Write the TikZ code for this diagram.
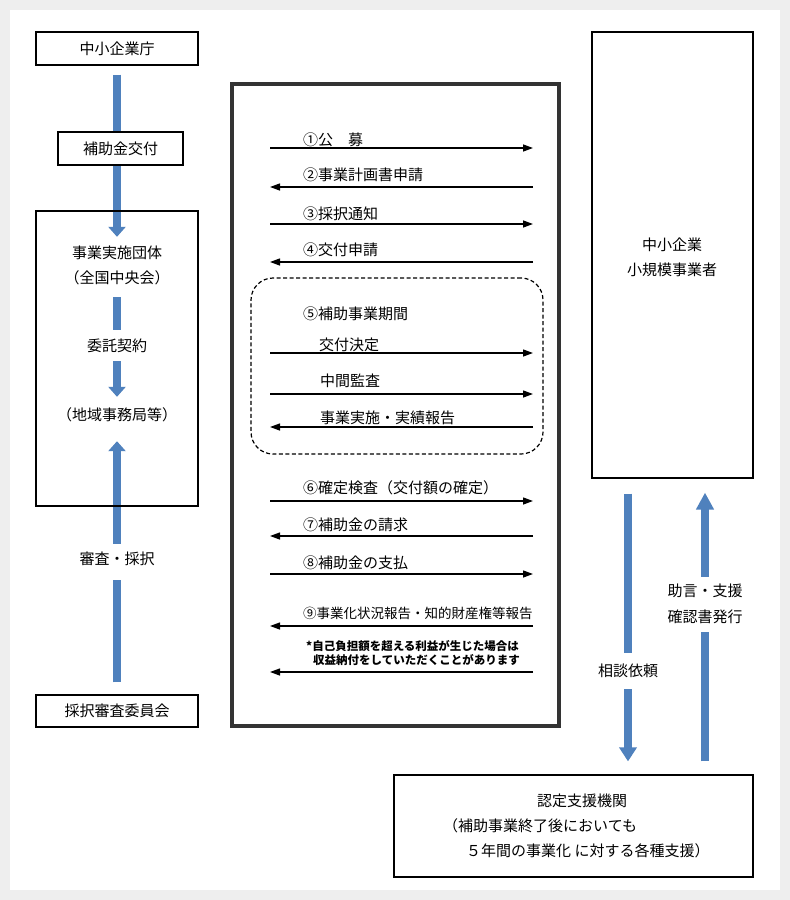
\documentclass[tikz,border=0pt]{standalone}
\usepackage{fontspec}
\setmainfont{Noto Sans CJK JP}
\usetikzlibrary{arrows.meta,backgrounds}
\definecolor{flowblue}{RGB}{79,129,189}
\definecolor{pagegray}{RGB}{238,238,238}
\tikzset{
  box/.style={draw, line width=1.2pt, minimum width=162pt, minimum height=33pt, inner sep=0pt},
  lbl/.style={inner sep=0pt, text height=12.5pt, text depth=1.5pt},
  msg/.style={line width=1.3pt, -{Triangle[length=10pt,width=7pt]}},
  bigarrow/.style={flowblue, line width=8pt},
  bighead/.style={-{Triangle[length=#1,width=17pt]}},
}
\begin{document}
\begin{tikzpicture}[x=1pt,y=-1pt,font=\fontsize{15pt}{18pt}\selectfont]
    %% Page
    \begin{scope}[on background layer]
        \fill[pagegray] (0,0) rectangle (790,900);
        \fill[white] (10,10) rectangle (780,890);
    \end{scope}
    %% Left column
    \node[box] (cho) at (117,48.5) {中小企業庁};
    \node[box, fill=white, minimum width=125pt] (hojo) at (120.5,148.5) {補助金交付};
    \node[box, minimum height=295pt] (jimukyoku) at (117,358.5) {};
    \node[lbl] (dantai) at (117,253) {事業実施団体};
    \node[lbl] (zenkoku) at (117,278) {（全国中央会）};
    \node[lbl] (itaku) at (117,346) {委託契約};
    \node[lbl] (chiiki) at (117,415) {（地域事務局等）};
    \node[lbl] (shinsa) at (117,559) {審査・採択};
    \node[box, minimum height=32pt] (iinkai) at (117,711) {採択審査委員会};
    %% Centre: procedure
    \node[draw=black!80, line width=4pt, minimum width=327pt, minimum height=642pt] (tetsuzuki) at (395.5,405) {};
    \node[draw, dashed, dash pattern=on 4pt off 2.5pt, rounded corners=22pt, line width=1.2pt,
          minimum width=292pt, minimum height=176pt] (kikan) at (397,366) {};
    \foreach \n/\y in {1/148,2/187,3/224,4/262,5/353,6/394,7/427,8/501,9/536,10/574,11/626,12/672} {
        \coordinate (ml\n) at (270,\y);
        \coordinate (mr\n) at (533,\y);
    }
    \node[lbl, anchor=west] (koubo) at (303,140) {①公　募};
    \node[lbl, anchor=west] (keikaku) at (303,175) {②事業計画書申請};
    \node[lbl, anchor=west] (saitaku) at (303,213.5) {③採択通知};
    \node[lbl, anchor=west] (koufu) at (303,250) {④交付申請};
    \node[lbl, anchor=west] (kikanlbl) at (303,313.5) {⑤補助事業期間};
    \node[lbl, anchor=west] (kettei) at (319,345) {交付決定};
    \node[lbl, anchor=west] (kansa) at (320,381) {中間監査};
    \node[lbl, anchor=west] (jisseki) at (320,418) {事業実施・実績報告};
    \node[lbl, anchor=west] (kakutei) at (303,488) {⑥確定検査（交付額の確定）};
    \node[lbl, anchor=west] (seikyu) at (303,525) {⑦補助金の請求};
    \node[lbl, anchor=west] (shiharai) at (303,563) {⑧補助金の支払};
    \node[lbl, anchor=west, font=\fontsize{13.5pt}{16pt}\selectfont] (houkoku) at (303,613) {⑨事業化状況報告・知的財産権等報告};
    \node[lbl, anchor=west, font=\bfseries\fontsize{11.5pt}{13pt}\selectfont] (note1) at (306,645) {*自己負担額を超える利益が生じた場合は};
    \node[lbl, anchor=west, font=\bfseries\fontsize{11.5pt}{13pt}\selectfont] (note2) at (313,659) {収益納付をしていただくことがあります};
    \draw[msg] (ml1) -- (mr1);
    \draw[msg] (mr2) -- (ml2);
    \draw[msg] (ml3) -- (mr3);
    \draw[msg] (mr4) -- (ml4);
    \draw[msg] (ml5) -- (mr5);
    \draw[msg] (ml6) -- (mr6);
    \draw[msg] (mr7) -- (ml7);
    \draw[msg] (ml8) -- (mr8);
    \draw[msg] (mr9) -- (ml9);
    \draw[msg] (ml10) -- (mr10);
    \draw[msg] (mr11) -- (ml11);
    \draw[msg] (mr12) -- (ml12);
    %% Right column
    \node[box, minimum width=161pt, minimum height=446pt] (jigyosha) at (672.5,255) {};
    \node[lbl] (chusho) at (672,245) {中小企業};
    \node[lbl] (shokibo) at (672,270) {小規模事業者};
    \node[box, minimum width=359pt, minimum height=102pt] (nintei) at (573.5,826) {};
    \node[lbl] (shien) at (582,801) {認定支援機関};
    \node[lbl, anchor=west] (shien2) at (443,826) {（補助事業終了後においても};
    \node[lbl, anchor=west] (shien3) at (466,851) {５年間の事業化 に対する各種支援）};
    \node[lbl] (soudan) at (628,671) {相談依頼};
    \node[lbl] (jogen) at (705,591) {助言・支援};
    \node[lbl] (kakunin) at (705,617) {確認書発行};
    %% Blue flow arrows
    \begin{scope}[on background layer]
        \draw[bigarrow, bighead=10pt, shorten <=9pt, shorten >=9pt] (cho) -- (dantai);
        \draw[bigarrow, shorten <=12pt, shorten >=9pt] (zenkoku) -- (itaku);
        \draw[bigarrow, bighead=10pt, shorten <=8pt, shorten >=11pt] (itaku) -- (chiiki);
        \draw[bigarrow, shorten <=12pt, shorten >=14pt] (iinkai) -- (shinsa);
        \draw[bigarrow, bighead=10pt, shorten <=8pt, shorten >=19pt] (shinsa) -- (chiiki);
        \draw[bigarrow, shorten <=15pt, shorten >=11pt] (jigyosha.south -| soudan) -- (soudan);
        \draw[bigarrow, bighead=14pt, shorten <=11pt, shorten >=13pt] (soudan) -- (nintei.north -| soudan);
        \draw[bigarrow, shorten <=13pt, shorten >=8pt] (nintei.north -| kakunin) -- (kakunin);
        \draw[bigarrow, bighead=17pt, shorten <=7pt, shorten >=14pt] (jogen) -- (jigyosha.south -| jogen);
    \end{scope}
\end{tikzpicture}
\end{document}
